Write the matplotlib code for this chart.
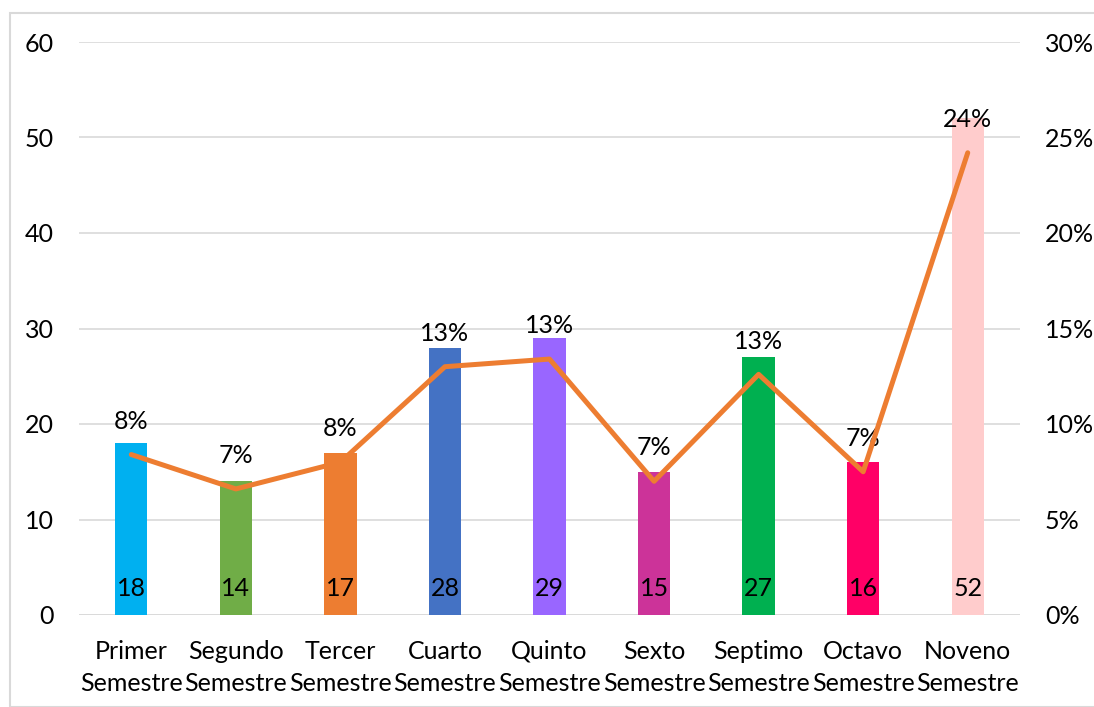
import matplotlib.pyplot as plt
from matplotlib.patches import Rectangle
from matplotlib.ticker import PercentFormatter

plt.rcParams['font.family'] = ['Lato', 'DejaVu Sans']

# data
categories = ['Primer\nSemestre', 'Segundo\nSemestre', 'Tercer\nSemestre', 'Cuarto\nSemestre',
              'Quinto\nSemestre', 'Sexto\nSemestre', 'Septimo\nSemestre', 'Octavo\nSemestre',
              'Noveno\nSemestre']
counts = [18, 14, 17, 28, 29, 15, 27, 16, 52]
pct = [8.4, 6.6, 8.0, 13.0, 13.4, 7.0, 12.6, 7.5, 24.2]
pct_labels = ['8%', '7%', '8%', '13%', '13%', '7%', '13%', '7%', '24%']
bar_colors = ['#00B0F0', '#70AD47', '#ED7D31', '#4472C4', '#9966FF',
              '#CC3399', '#00B050', '#FF0066', '#FFCCCC']

FS = 18

fig = plt.figure(figsize=(10.94, 7.07), dpi=100)
ax = fig.add_axes([79 / 1094, 1 - 615 / 707, (1020 - 79) / 1094, (615 - 42) / 707])

x = list(range(len(categories)))
ax.bar(x, counts, width=0.31, color=bar_colors, zorder=2)
ax.set_ylim(0, 60)
ax.set_xlim(-0.5, len(categories) - 0.5)
ax.set_yticks(range(0, 61, 10))
ax.grid(axis='y', color='#D9D9D9', linewidth=1.2, zorder=0)
for s in ax.spines.values():
    s.set_visible(False)
ax.axhline(0, color='#D9D9D9', linewidth=1.2, zorder=1)
ax.tick_params(axis='both', length=0, labelsize=FS, colors='black')
ax.tick_params(axis='y', pad=18)
ax.tick_params(axis='x', pad=18)
ax.set_xticks(x)
ax.set_xticklabels(categories, linespacing=1.45)

for xi, c in zip(x, counts):
    ax.text(xi, 2.8, str(c), ha='center', va='center', fontsize=FS, zorder=3)

ax2 = ax.twinx()
ax2.plot(x, pct, color='#ED7D31', linewidth=3.6, solid_capstyle='round', zorder=4)
ax2.set_ylim(0, 30)
ax2.set_yticks(range(0, 31, 5))
ax2.yaxis.set_major_formatter(PercentFormatter(decimals=0))
ax2.tick_params(axis='y', length=0, labelsize=FS, pad=18)
for s in ax2.spines.values():
    s.set_visible(False)
for xi, p, lab in zip(x, pct, pct_labels):
    ax2.annotate(lab, (xi, p), xytext=(0, 24), textcoords='offset points',
                 ha='center', va='center', fontsize=FS)

fig.patches.append(Rectangle((10 / 1094, 0), 1.0, 1 - 13 / 707, transform=fig.transFigure,
                             fill=False, edgecolor='#D9D9D9', linewidth=1.5))

fig.savefig('out.png', dpi=100)
